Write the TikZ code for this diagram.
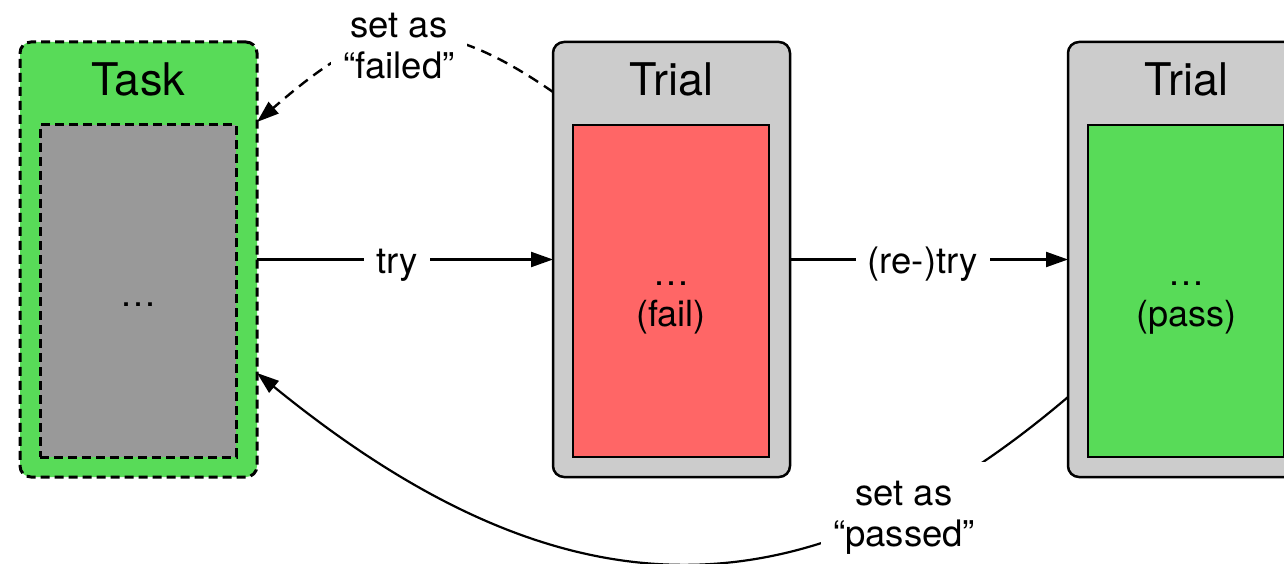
\documentclass[tikz,border=0pt]{standalone}
\usepackage{fontspec}
\setmainfont{TeX Gyre Heros}
\usetikzlibrary{arrows.meta}

\definecolor{passgreen}{RGB}{88,219,88}
\definecolor{failred}{RGB}{255,102,102}
\definecolor{shellgray}{RGB}{204,204,204}
\definecolor{slotgray}{RGB}{153,153,153}

\begin{document}
\begin{tikzpicture}[x=1pt, y=-1pt,
  every node/.style={inner sep=0pt, outer sep=0pt},
  shellbox/.style={draw=black, line width=2.5pt, rounded corners=11pt,
    minimum width=237pt, minimum height=435pt, anchor=north west},
  slotbox/.style={draw=black, line width=2.5pt,
    minimum width=196pt, minimum height=332pt, anchor=north west},
  taskdash/.style={line width=3pt, dash pattern=on 9pt off 5pt},
  title/.style={font=\fontsize{45}{54}\selectfont},
  body/.style={font=\fontsize{36}{41}\selectfont, align=center},
  lbl/.style={font=\fontsize{36.5}{41}\selectfont, align=center, fill=white,
    inner xsep=12pt, inner ysep=4pt},
  link/.style={line width=2.2pt, -{Triangle[length=22pt,width=15pt]}},
]
\path[use as bounding box, clip] (0,0) rectangle (1284,564);

% task container with its placeholder body
\node[shellbox, taskdash, fill=passgreen] (task) at (20,42) {};
\node[slotbox, taskdash, fill=slotgray] (taskslot) at (40,125) {};
\node[title] (taskname) at (138.5,79) {Task};
\node[body, anchor=base] (taskdots) at (138,306) {…};

% first trial (failing)
\node[shellbox, fill=shellgray] (trialA) at (553,42) {};
\node[slotbox, fill=failred] (slotA) at (573,125) {};
\node[title] (trialAname) at (671.5,79) {Trial};
\node[body] (failtext) at (671,297.3) {\strut …\\\strut (fail)};

% second trial (passing)
\node[shellbox, fill=shellgray] (trialB) at (1068,42) {};
\node[slotbox, fill=passgreen] (slotB) at (1088,125) {};
\node[title] (trialBname) at (1186.5,79) {Trial};
\node[body] (passtext) at (1186,297.3) {\strut …\\\strut (pass)};

% forward attempts
\draw[link] (task.east) --
  node[lbl, pos=0.473, anchor=base, yshift=-13.5pt] (trylbl) {try} (trialA.west);
\draw[link] (trialA.east) --
  node[lbl, pos=0.477, anchor=base, yshift=-13.5pt] (retrylbl) {(re-)try} (trialB.west);

% status written back to the task
\draw[link, line width=2.4pt, dash pattern=on 11pt off 7pt]
  ([yshift=-50pt]trialA.north west) .. controls +(-130,-90) and +(110,-95) ..
  ([yshift=-80pt]task.north east);
\draw[link]
  ([yshift=80pt]trialB.south west) .. controls +(-268,228) and +(303,247) ..
  ([yshift=104pt]task.south east);

\node[lbl] (failedlbl) at (399,50.3) {\strut set as\\\strut “failed”};
\node[lbl, inner ysep=14pt] (passedlbl) at (904,517.3) {\strut set as\\\strut “passed”};
\end{tikzpicture}
\end{document}
